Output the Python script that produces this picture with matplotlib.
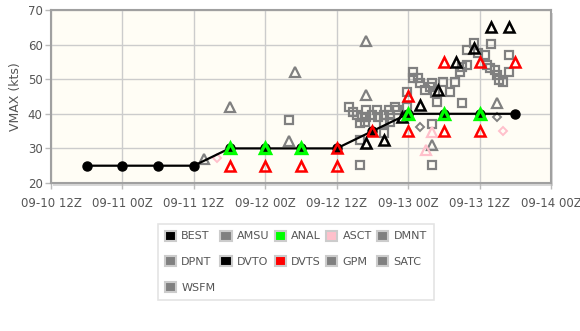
import matplotlib
matplotlib.use("Agg")
import matplotlib.pyplot as plt
from matplotlib.patches import Rectangle

# x values are hours after 09-10 12Z
tick_hours = [0, 12, 24, 36, 48, 60, 72, 84]
tick_labels = ["09-10 12Z", "09-11 00Z", "09-11 12Z", "09-12 00Z",
               "09-12 12Z", "09-13 00Z", "09-13 12Z", "09-14 00Z"]

best_h = [6, 12, 18, 24, 30, 36, 42, 48, 54, 60, 66, 72, 78]
best_v = [25, 25, 25, 25, 30, 30, 30, 30, 35, 40, 40, 40, 40]

anal_h = [30, 36, 42, 60, 66, 72]
anal_v = [30, 30, 30, 40, 40, 40]

dvts_h = [30, 36, 42, 48, 48, 54, 60, 60, 66, 66, 72, 72, 78]
dvts_v = [25, 25, 25, 25, 30, 35, 35, 45, 35, 55, 35, 55, 55]

dvto_h = [53, 56, 59, 62, 65, 68, 71, 74, 77]
dvto_v = [31.5, 32.5, 39, 42.5, 47, 55, 59, 65, 65]

amsu_h = [25.7, 30, 40, 41, 53, 53, 64, 75]
amsu_v = [27, 42, 32, 52, 61, 45.5, 31, 43]

gpm_h = [62, 75]
gpm_v = [36.3, 39]

asct_dia_h = [27.9, 75.9]
asct_dia_v = [27.2, 35.1]
asct_tri_h = [63, 64]
asct_tri_v = [29.5, 34.7]

satc_h = [40, 50.0, 50.8, 51.4, 51.9, 52.2, 53.0, 53.9, 54.7, 55.0, 55.9, 56.7,
          57.0, 57.8, 55.9, 59.8, 60.9, 60.9, 61.7, 62.0, 62.9, 63.7, 64.0,
          64.5, 64.8, 65.9, 67.1, 67.9, 69.0, 68.7, 69.0, 69.9, 69.9, 71.0,
          71.8, 72.9, 73.2, 73.8, 73.9, 74.6, 74.9, 75.2, 76.0, 76.9, 76.9,
          51.9, 64.0, 64.0, 56.0, 51.9, 53.0, 52.8, 57.0, 58.1, 59.8]
satc_v = [38.2, 42.1, 40.6, 39.6, 37.2, 39.2, 39.2, 39.6, 41.1, 39.2, 39.6, 41.1,
          39.6, 42.1, 37.2, 46.4, 52.2, 50.3, 50.3, 48.8, 46.9, 47.8, 48.8,
          45.9, 43.5, 49.3, 46.4, 49.3, 43.0, 52.2, 53.6, 54.1, 58.4, 60.4,
          57.5, 57.0, 54.1, 53.1, 60.2, 52.7, 51.2, 49.8, 49.3, 52.2, 57.0,
          25.2, 25.2, 37.0, 34.4, 32.4, 41.1, 37.7, 37.7, 41.1, 42.1]

legend_names = ["BEST", "AMSU", "ANAL", "ASCT", "DMNT",
                "DPNT", "DVTO", "DVTS", "GPM", "SATC", "WSFM"]
legend_colors = ["#000000", "#808080", "#00ff00", "#ffc0cb", "#808080",
                 "#808080", "#000000", "#ff0000", "#808080", "#808080", "#808080"]

GRAY = "#808080"
TXT = "#555555"

fig = plt.figure(figsize=(5.8, 3.31), dpi=100)
ax = fig.add_axes([51 / 580, 1 - 183 / 331, 500 / 580, 173 / 331])
ax.set_facecolor("#fffdf5")

# drop shadow behind the plot frame
shadow = Rectangle((53 / 580, 1 - 186 / 331), 500 / 580, 173 / 331,
                   transform=fig.transFigure, facecolor="#d8d8d8",
                   edgecolor="none", zorder=-1)
fig.patches.append(shadow)

ax.grid(True, color="#cccccc", linewidth=1)
ax.set_axisbelow(True)

ms_sq = 5.6
ms_tri = 7

ax.plot(satc_h, satc_v, "s", ms=ms_sq, mfc="none", mec=GRAY, mew=1.6, zorder=2)
ax.plot(amsu_h, amsu_v, "^", ms=ms_tri, mfc="none", mec=GRAY, mew=1.6, zorder=2)
ax.plot(gpm_h, gpm_v, "D", ms=4.5, mfc="none", mec=GRAY, mew=1.4, zorder=2)
ax.plot(asct_dia_h, asct_dia_v, "D", ms=4.5, mfc="none", mec="#ffc0cb", mew=1.4, zorder=2)
ax.plot(asct_tri_h, asct_tri_v, "^", ms=ms_tri, mfc="none", mec="#ffc0cb", mew=1.6, zorder=2)

ax.plot(best_h, best_v, "-o", color="black", lw=1.6, ms=6.5, zorder=3)

ax.plot(dvts_h, dvts_v, "^", ms=ms_tri, mfc="none", mec="#ff0000", mew=1.8, zorder=4)
ax.plot(dvto_h, dvto_v, "^", ms=ms_tri, mfc="none", mec="black", mew=1.8, zorder=4)
ax.plot(anal_h, anal_v, "^", ms=ms_tri, mfc="none", mec="#00ff00", mew=2.4, zorder=5)

ax.set_xlim(0, 84)
ax.set_ylim(20, 70)
ax.set_xticks(tick_hours)
ax.set_xticklabels(tick_labels)
ax.set_yticks([20, 30, 40, 50, 60, 70])
ax.tick_params(labelsize=8.5, length=4, width=1)
ax.tick_params(axis="x", colors="#bbbbbb", labelcolor=TXT, pad=6)
ax.tick_params(axis="y", colors="#bbbbbb", labelcolor=TXT, pad=2)
ax.set_ylabel("VMAX (kts)", color=TXT, fontsize=9, labelpad=4)

for s in ax.spines.values():
    s.set_color("#a0a0a0")
    s.set_linewidth(1.5)

handles = [Rectangle((0, 0), 1, 1, facecolor=c, edgecolor="#cccccc", linewidth=1.5)
           for c in legend_colors]
# matplotlib fills legend columns first, so reorder to read row by row
order = [0, 5, 10, 1, 6, 2, 7, 3, 8, 4, 9]
leg = fig.legend([handles[i] for i in order], [legend_names[i] for i in order],
                 ncol=5, loc="upper left", bbox_to_anchor=(158 / 580, 1 - 224 / 331),
                 borderaxespad=0, fontsize=8, frameon=True, fancybox=False,
                 handlelength=1.0, handleheight=1.0, handletextpad=0.5,
                 columnspacing=0.45, labelspacing=1.35, borderpad=0.6)
leg.get_frame().set_edgecolor("#dddddd")
leg.get_frame().set_linewidth(1.2)
for t in leg.get_texts():
    t.set_color(TXT)

fig.savefig("out.png", dpi=100)
